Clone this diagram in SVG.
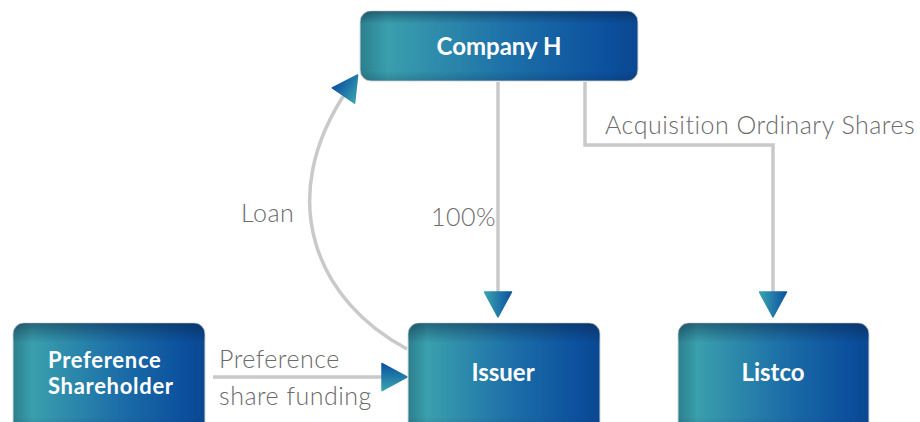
<svg xmlns="http://www.w3.org/2000/svg" width="920" height="422" viewBox="0 0 920 422">
<defs>
<linearGradient id="nodeH" x1="0" y1="0" x2="1" y2="0">
<stop offset="0" stop-color="#2c7f8d"/>
<stop offset="0.1" stop-color="#3a9fad"/>
<stop offset="0.55" stop-color="#1c6ea8"/>
<stop offset="0.9" stop-color="#0b4f9d"/>
<stop offset="1" stop-color="#0b4890"/>
</linearGradient>
<linearGradient id="nodeV" x1="0" y1="0" x2="0" y2="1">
<stop offset="0" stop-color="#0a1f3a" stop-opacity="0.45"/>
<stop offset="0.18" stop-color="#0a1f3a" stop-opacity="0"/>
<stop offset="0.85" stop-color="#0a1f3a" stop-opacity="0"/>
<stop offset="1" stop-color="#0a1f3a" stop-opacity="0.2"/>
</linearGradient>
<linearGradient id="arrowG" x1="0" y1="1" x2="0" y2="0">
<stop offset="0" stop-color="#3aa3b0"/>
<stop offset="1" stop-color="#0b52a0"/>
</linearGradient>
<marker id="arr" markerUnits="userSpaceOnUse" viewBox="0 0 27 29" markerWidth="27" markerHeight="29" refX="9" refY="14.5" orient="auto">
<path d="M1,1 L26,14.5 L1,28 Z" fill="url(#arrowG)" stroke="url(#arrowG)" stroke-width="1.5" stroke-linejoin="round"/>
</marker>
</defs>
<style>
.box{stroke:#d4d8dc;stroke-width:1}
.shade{fill:url(#nodeV)}
.fill{fill:url(#nodeH)}
.lbl{font-family:Lato,"Open Sans",sans-serif;font-weight:700;font-size:24px;fill:#ffffff;text-anchor:middle}
.lbll{font-family:Lato,"Open Sans",sans-serif;font-weight:700;font-size:22px;letter-spacing:0.7px;fill:#ffffff}
.el{font-family:Lato,"Open Sans",sans-serif;font-weight:300;font-size:25px;letter-spacing:0.5px;fill:#6b6b6b}
.conn{fill:none;stroke:#c9c9c9;stroke-width:3.5}
</style>
<g id="connectors">
<path class="conn" d="M498,82 V300" marker-end="url(#arr)"/>
<path class="conn" d="M585,82 V145 H773 V300" marker-end="url(#arr)"/>
<path class="conn" d="M213,377 H390" marker-end="url(#arr)"/>
<path class="conn" d="M407,349 C318,302 272,200 348,89" marker-end="url(#arr)"/>
<text class="el" x="605" y="134">Acquisition Ordinary Shares</text>
<text class="el" x="431" y="226">100%</text>
<text class="el" x="241" y="222">Loan</text>
<text class="el" x="219" y="368">Preference</text>
<text class="el" x="219" y="405">share funding</text>
</g>
<g id="company-h">
<rect class="box fill" x="360" y="11" width="278" height="70" rx="11"/>
<rect class="shade" x="360" y="11" width="278" height="70" rx="11"/>
<text class="lbl" x="499" y="55">Company H</text>
</g>
<g id="issuer">
<rect class="box fill" x="408" y="323" width="192" height="110" rx="11"/>
<rect class="shade" x="408" y="323" width="192" height="110" rx="11"/>
<text class="lbl" x="503" y="381">Issuer</text>
</g>
<g id="listco">
<rect class="box fill" x="678" y="323" width="191" height="110" rx="11"/>
<rect class="shade" x="678" y="323" width="191" height="110" rx="11"/>
<text class="lbl" x="773" y="381">Listco</text>
</g>
<g id="preference-shareholder">
<rect class="box fill" x="13" y="323" width="192" height="110" rx="11"/>
<rect class="shade" x="13" y="323" width="192" height="110" rx="11"/>
<text class="lbll" x="48" y="368">Preference</text>
<text class="lbll" x="48" y="394">Shareholder</text>
</g>
</svg>
